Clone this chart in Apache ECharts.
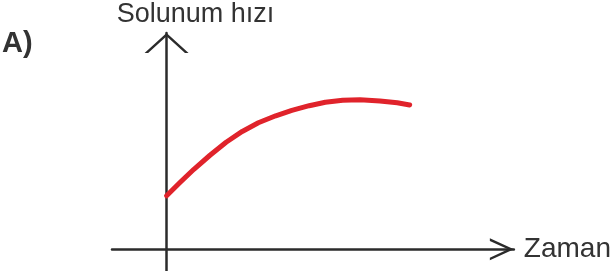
<!DOCTYPE html>
<html lang="tr">
<head>
    <meta charset="UTF-8">
    <title>Solunum hızı - Zaman</title>
    <style>
        html, body { margin: 0; padding: 0; background: #fff; }
        #box { width: 614px; height: 271px; }
    </style>
</head>
<body>
    <div id="box"></div>
    <script src="https://cdn.jsdelivr.net/npm/echarts@6/dist/echarts.min.js"></script>
    <script>
        // values (arbitrary units)
        var zaman = [0, 0.55, 1.1, 1.75, 2.4, 3.05, 3.7, 4.4, 5.05, 5.75, 6.4, 7.1, 7.8, 8.6, 9.3, 9.8];
        var solunumHizi = [4.95, 6.2, 7.4, 8.7, 9.9, 10.9, 11.7, 12.35, 12.85, 13.28, 13.6, 13.78, 13.82, 13.72, 13.55, 13.35];
        var xRange = [-2.2, 14];
        var yRange = [-2, 20];

        var axisColor = "#2b2b2b";
        var textColor = "#333";
        var font = "Liberation Sans, Arial, sans-serif";

        // open arrow head: thin filled V pointing up, w wide, h tall, t thick
        function chevron(w, h, t) {
            var phi = Math.atan((w / 2) / h);
            var c = t / Math.sin(phi);
            var e = t / Math.cos(phi);
            return "path://M" + w / 2 + ",0 L" + w + "," + h + " L" + (w - e) + "," + h +
                " L" + w / 2 + "," + c + " L" + e + "," + h + " L0," + h + " Z";
        }

        var points = [];
        for (var i = 0; i < zaman.length; i++) {
            points.push([zaman[i], solunumHizi[i]]);
        }

        var box = echarts.init(document.getElementById("box"));
        box.setOption({
            animation: false,
            title: {
                text: "A)",
                left: 2,
                top: 29,
                padding: 0,
                textStyle: { color: textColor, fontSize: 29, fontWeight: "bold", fontFamily: font }
            },
            grid: { left: 112, right: 98, top: 33, bottom: 0 },
            xAxis: {
                type: "value",
                min: xRange[0],
                max: xRange[1],
                name: "Zaman",
                nameLocation: "end",
                nameGap: 10,
                nameTextStyle: { color: textColor, fontSize: 28, fontFamily: font },
                axisLine: {
                    onZero: true,
                    symbol: ["none", chevron(22, 24, 2.4)],
                    symbolSize: [22, 24],
                    symbolOffset: [0, -12],
                    lineStyle: { color: axisColor, width: 2.5 }
                },
                axisTick: { show: false },
                axisLabel: { show: false },
                splitLine: { show: false }
            },
            yAxis: {
                type: "value",
                min: yRange[0],
                max: yRange[1],
                name: "Solunum hızı",
                nameLocation: "end",
                nameGap: 5,
                nameTextStyle: { color: textColor, fontSize: 27, fontFamily: font, padding: [0, 0, 0, 58] },
                axisLine: {
                    onZero: true,
                    symbol: ["none", chevron(44, 20, 2.4)],
                    symbolSize: [44, 20],
                    symbolOffset: [0, -10],
                    lineStyle: { color: axisColor, width: 2.5 }
                },
                axisTick: { show: false },
                axisLabel: { show: false },
                splitLine: { show: false }
            },
            series: [{
                type: "line",
                smooth: false,
                symbol: "none",
                data: points,
                lineStyle: { color: "#e0232b", width: 5, cap: "round", join: "round" }
            }]
        });
    </script>
</body>
</html>
